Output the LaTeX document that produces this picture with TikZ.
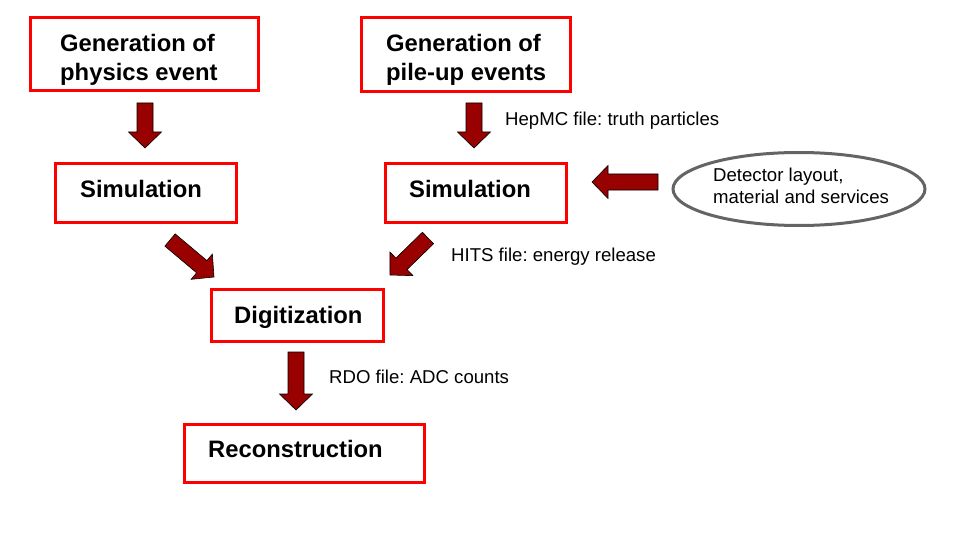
\documentclass[tikz,border=0pt]{standalone}
\usepackage{fontspec}
\setmainfont{Liberation Sans}
\usetikzlibrary{calc,shapes.geometric}
\frenchspacing
\definecolor{boxred}{RGB}{255,0,0}
\definecolor{arrred}{RGB}{153,0,0}
\definecolor{ellgray}{RGB}{100,100,100}
\tikzset{
  stagebox/.style 2 args={draw=boxred, line width=3pt, rectangle, inner sep=0pt,
    minimum width=#1, minimum height=#2},
  titletext/.style={inner sep=0pt, align=left, font=\fontsize{23.8}{28.5}\selectfont\bfseries},
  labeltext/.style={inner sep=0pt, align=left, font=\fontsize{18.6}{22}\selectfont},
  barrow/.style={fill=arrred, draw=black, line width=0.6pt, line join=miter},
  detell/.style={ellipse, draw=ellgray, line width=3pt, inner sep=0pt,
    minimum width=252, minimum height=73}
}
\newcommand\blockarr[2]{%
  \coordinate (#1-#2-h) at ($(#2)!16pt!(#1)$);
  \filldraw[barrow] ($(#1)!8pt!90:(#2)$) -- ($(#1-#2-h)!8pt!90:(#2)$)
    -- ($(#1-#2-h)!16.5pt!90:(#2)$) -- (#2)
    -- ($(#1-#2-h)!16.5pt!-90:(#2)$) -- ($(#1-#2-h)!8pt!-90:(#2)$)
    -- ($(#1)!8pt!-90:(#2)$) -- cycle;
}
\begin{document}
\begin{tikzpicture}[x=1pt, y=-1pt]
  \useasboundingbox[fill=white] (0,0) rectangle (960,540);

  % boxes
  \node[stagebox={228}{73}] (gen1) at (144,54.5) {};
  \node[stagebox={209}{74}] (gen2) at (466,54.5) {};
  \node[stagebox={181}{58}] (sim1) at (146,193) {};
  \node[stagebox={181}{58}] (sim2) at (475.5,193) {};
  \node[stagebox={172}{52}] (digi) at (297.5,315.5) {};
  \node[stagebox={240}{58}] (reco) at (304,453) {};
  \node[detell] (det) at (799,189) {};

  % box texts
  \node[titletext, anchor=west] (gen1t) at (60,60) {Generation of\\physics event};
  \node[titletext, anchor=west] (gen2t) at (386,60) {Generation of\\pile-up events};
  \node[titletext, anchor=base west] (sim1t) at (80,197) {Simulation};
  \node[titletext, anchor=base west] (sim2t) at (409,197) {Simulation};
  \node[titletext, anchor=base west] (digit) at (234,323) {Digitization};
  \node[titletext, anchor=base west] (recot) at (208,457) {Reconstruction};
  \node[labeltext, anchor=west] (dett) at (713,186) {Detector layout,\\material and services};

  % labels
  \node[labeltext, anchor=base west] (lhep) at (505,126) {HepMC file: truth particles};
  \node[labeltext, anchor=base west] (lhits) at (451,261) {HITS file: energy release};
  \node[labeltext, anchor=base west] (lrdo) at (329,383) {RDO file: ADC counts};

  % arrow end points
  \coordinate (a1s) at (145,103);  \coordinate (a1e) at (145,148);
  \coordinate (a2s) at (474,103);  \coordinate (a2e) at (474,148);
  \coordinate (a3s) at (170,240);  \coordinate (a3e) at (214,277);
  \coordinate (a4s) at (428,238);  \coordinate (a4e) at (390,275);
  \coordinate (a5s) at (658,182);  \coordinate (a5e) at (592,182);
  \coordinate (a6s) at (296,352);  \coordinate (a6e) at (296,410);

  \blockarr{a1s}{a1e}
  \blockarr{a2s}{a2e}
  \blockarr{a3s}{a3e}
  \blockarr{a4s}{a4e}
  \blockarr{a5s}{a5e}
  \blockarr{a6s}{a6e}
\end{tikzpicture}
\end{document}
